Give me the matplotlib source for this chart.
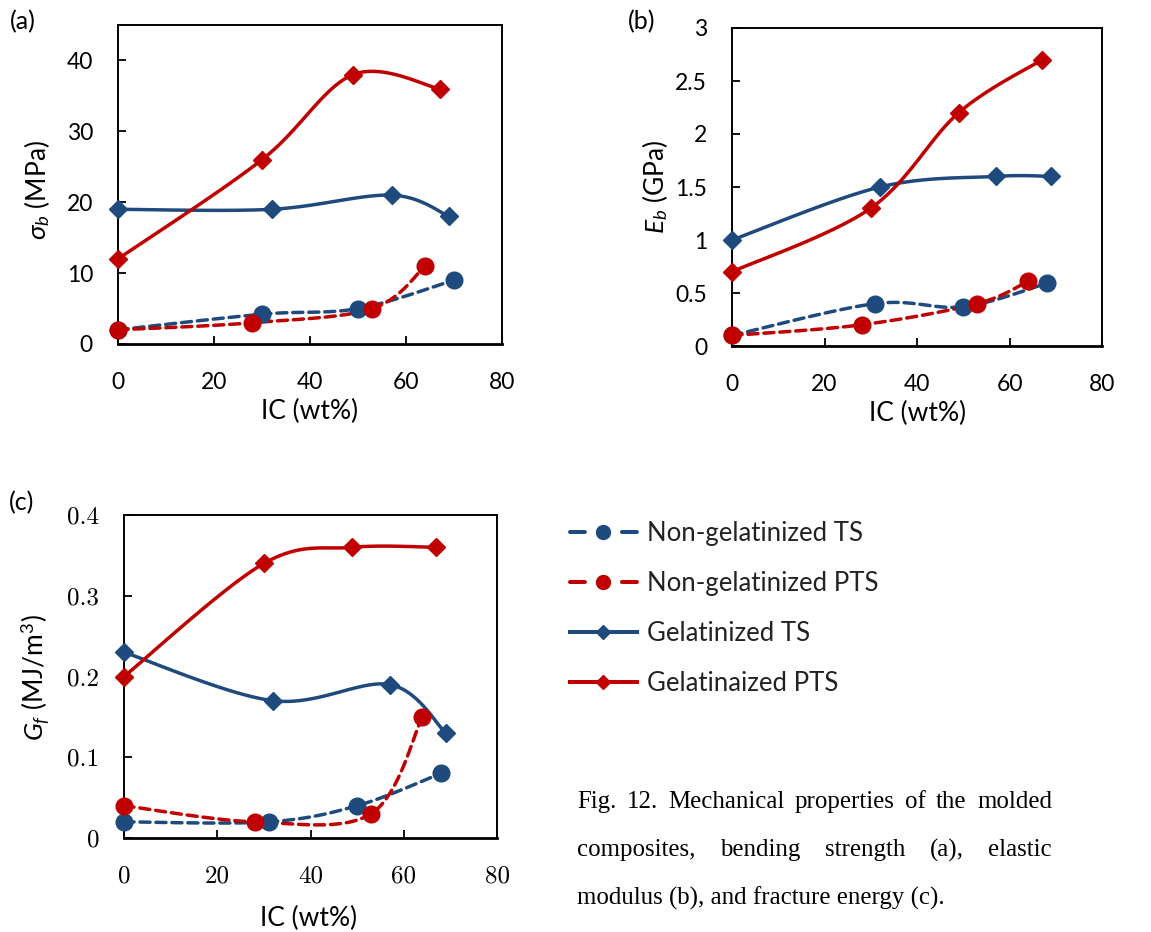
import numpy as np
import matplotlib
matplotlib.use('Agg')
import matplotlib.pyplot as plt
from matplotlib.lines import Line2D

plt.rcParams['font.family'] = ['Lato', 'DejaVu Sans']
plt.rcParams['mathtext.fontset'] = 'custom'
plt.rcParams['mathtext.rm'] = 'Lato'
plt.rcParams['mathtext.it'] = 'Lato:italic'

# ---------------- data ----------------
series_names = ['Non-gelatinized TS', 'Non-gelatinized PTS', 'Gelatinized TS', 'Gelatinaized PTS']

# (a) bending strength, MPa
a_ngts_x = [0, 30, 50, 70];   a_ngts_y = [2, 4.2, 5, 9]
a_ngpts_x = [0, 28, 53, 64];  a_ngpts_y = [2, 3, 5, 11]
a_gts_x = [0, 32, 57, 69];    a_gts_y = [19, 19, 21, 18]
a_gpts_x = [0, 30, 49, 67];   a_gpts_y = [12, 26, 38, 36]

# (b) elastic modulus, GPa
b_ngts_x = [0, 31, 50, 68];   b_ngts_y = [0.1, 0.4, 0.37, 0.59]
b_ngpts_x = [0, 28, 53, 64];  b_ngpts_y = [0.1, 0.2, 0.4, 0.61]
b_gts_x = [0, 32, 57, 69];    b_gts_y = [1.0, 1.5, 1.6, 1.6]
b_gpts_x = [0, 30, 49, 67];   b_gpts_y = [0.7, 1.3, 2.2, 2.7]

# (c) fracture energy, MJ/m3
c_ngts_x = [0, 31, 50, 68];   c_ngts_y = [0.02, 0.02, 0.04, 0.08]
c_ngpts_x = [0, 28, 53, 64];  c_ngpts_y = [0.04, 0.02, 0.03, 0.15]
c_gts_x = [0, 32, 57, 69];    c_gts_y = [0.23, 0.17, 0.19, 0.13]
c_gpts_x = [0, 30, 49, 67];   c_gpts_y = [0.20, 0.34, 0.36, 0.36]

x_ticks = [0, 20, 40, 60, 80]
a_yticks = [0, 10, 20, 30, 40]
b_yticks = [0, 0.5, 1, 1.5, 2, 2.5, 3]
b_yticklabels = ['0', '0.5', '1', '1.5', '2', '2.5', '3']
c_yticks = [0, 0.1, 0.2, 0.3, 0.4]
c_yticklabels = ['0', '0.1', '0.2', '0.3', '0.4']

BLUE = '#1F4A7E'
RED = '#C00000'


def smooth(xs, ys, n=40):
    """Excel-like smoothed line (Catmull-Rom Bezier) through the data points."""
    P = np.column_stack([xs, ys]).astype(float)
    m = len(P)
    out = [P[0]]
    t = np.linspace(0, 1, n)[1:, None]
    for i in range(m - 1):
        p0 = P[i - 1] if i > 0 else P[i]
        p1 = P[i]
        p2 = P[i + 1]
        p3 = P[i + 2] if i + 2 < m else P[i + 1]
        c1 = p1 + (p2 - p0) / 6.0
        c2 = p2 - (p3 - p1) / 6.0
        B = (1 - t) ** 3 * p1 + 3 * (1 - t) ** 2 * t * c1 + 3 * (1 - t) * t ** 2 * c2 + t ** 3 * p2
        out.extend(B)
    out = np.array(out)
    return out[:, 0], out[:, 1]


LW = 2.5
DASH = (2.9, 1.7)


def draw_series(ax, x, y, color, dashed, marker):
    sx, sy = smooth(x, y)
    ls = '--' if dashed else '-'
    line, = ax.plot(sx, sy, color=color, lw=LW, ls=ls, clip_on=False,
                    solid_capstyle='round', dash_capstyle='round', zorder=3)
    if dashed:
        line.set_dashes(DASH)
    ms = 12 if marker == 'o' else 9
    ax.plot(x, y, ls='none', marker=marker, ms=ms, color=color, mec=color,
            clip_on=False, zorder=4)


fig = plt.figure(figsize=(11.51, 9.32), dpi=100)
W, H = 1151.0, 932.0


def px_axes(l, t, r, b):
    return fig.add_axes([l / W, 1 - b / H, (r - l) / W, (b - t) / H])


ax_a = px_axes(118, 25, 502, 344)
ax_b = px_axes(732, 28, 1102, 346)
ax_c = px_axes(124, 515, 497, 838)

panels = [
    (ax_a, [(a_ngts_x, a_ngts_y), (a_ngpts_x, a_ngpts_y), (a_gts_x, a_gts_y), (a_gpts_x, a_gpts_y)]),
    (ax_b, [(b_ngts_x, b_ngts_y), (b_ngpts_x, b_ngpts_y), (b_gts_x, b_gts_y), (b_gpts_x, b_gpts_y)]),
    (ax_c, [(c_ngts_x, c_ngts_y), (c_ngpts_x, c_ngpts_y), (c_gts_x, c_gts_y), (c_gpts_x, c_gpts_y)]),
]
styles = [(BLUE, True, 'o'), (RED, True, 'o'), (BLUE, False, 'D'), (RED, False, 'D')]

for ax, data in panels:
    for (x, y), (col, dashed, mk) in zip(data, styles):
        draw_series(ax, x, y, col, dashed, mk)
    ax.set_xlim(0, 80)
    ax.set_xticks(x_ticks)
    for s in ax.spines.values():
        s.set_linewidth(1.4)
        s.set_color('black')
    ax.spines['bottom'].set_linewidth(2.0)
    ax.tick_params(direction='in', length=6, width=1.3, labelsize=16.5, colors='black')
    ax.tick_params(axis='x', pad=20)
    ax.tick_params(axis='y', pad=18)

ax_a.set_ylim(0, 45)
ax_a.set_yticks(a_yticks)
ax_b.set_ylim(0, 3)
ax_b.set_yticks(b_yticks)
ax_b.set_yticklabels(b_yticklabels)
ax_c.set_ylim(0, 0.4)
ax_c.set_yticks(c_yticks)
ax_c.set_yticklabels(c_yticklabels)
for lab in ax_c.get_xticklabels() + ax_c.get_yticklabels():
    lab.set_fontfamily('cmr10')
    lab.set_fontsize(18)

LBL = 19
ax_a.set_xlabel('IC (wt%)', fontsize=LBL, va='center')
ax_a.xaxis.set_label_coords(0.5, -0.213)
ax_a.set_ylabel(r'$\sigma_b$ (MPa)', fontsize=LBL, va='center')
ax_a.yaxis.set_label_coords(-0.211, 0.483)

ax_b.set_xlabel('IC (wt%)', fontsize=LBL, va='center')
ax_b.xaxis.set_label_coords(0.501, -0.212)
ax_b.set_ylabel(r'$E_b$ (GPa)', fontsize=LBL, va='center')
ax_b.yaxis.set_label_coords(-0.209, 0.5)

ax_c.set_xlabel('IC (wt%)', fontsize=LBL, va='center')
ax_c.xaxis.set_label_coords(0.494, -0.25)
ax_c.set_ylabel(r'$G_f$ (MJ/m$^3$)', fontsize=LBL, va='center')
ax_c.yaxis.set_label_coords(-0.239, 0.498)

for txt, px, py in [('(a)', 23, 22), ('(b)', 642, 22), ('(c)', 22, 503)]:
    fig.text(px / W, 1 - py / H, txt, fontsize=18, ha='center', va='center')

# legend
LEG_LW = 2.9
handles = [
    Line2D([], [], color=BLUE, lw=LEG_LW, dashes=(3.7, 9.2), dash_capstyle='round',
           marker='o', ms=10),
    Line2D([], [], color=RED, lw=LEG_LW, dashes=(3.7, 9.2), dash_capstyle='round',
           marker='o', ms=10),
    Line2D([], [], color=BLUE, lw=LEG_LW, marker='D', ms=7.5),
    Line2D([], [], color=RED, lw=LEG_LW, marker='D', ms=7.5),
]
leg = fig.legend(handles, series_names, loc='upper left',
                 bbox_to_anchor=(570 / W, 1 - 521 / H), frameon=False,
                 fontsize=18.5, handlelength=2.6, handletextpad=0.39,
                 labelspacing=0.97, borderpad=0, borderaxespad=0, numpoints=1)
for t in leg.get_texts():
    t.set_color('#222222')

# caption (justified)
cap_lines = [
    ('Fig. 12. Mechanical properties of the molded', True),
    ('composites, bending strength (a), elastic', True),
    ('modulus (b), and fracture energy (c).', False),
]
cap_left, cap_right = 577, 1052
cap_last_right = 943
cap_y = [802, 850, 898]
renderer = fig.canvas.get_renderer()
probe = fig.text(0, 0, cap_lines[2][0], fontsize=20, family='Liberation Serif')
cap_size = 20 * (cap_last_right - cap_left) / probe.get_window_extent(renderer).width
probe.remove()
for (line, just), yy in zip(cap_lines, cap_y):
    words = line.split(' ')
    if not just:
        fig.text(cap_left / W, 1 - yy / H, line, fontsize=cap_size,
                 family='Liberation Serif', ha='left', va='center')
        continue
    texts = [fig.text(0, 1 - yy / H, w, fontsize=cap_size, family='Liberation Serif',
                      ha='left', va='center') for w in words]
    widths = [t.get_window_extent(renderer).width for t in texts]
    gap = (cap_right - cap_left - sum(widths)) / (len(words) - 1)
    xpos = cap_left
    for t, w in zip(texts, widths):
        t.set_x(xpos / W)
        xpos += w + gap

fig.savefig('out.png', dpi=100)
